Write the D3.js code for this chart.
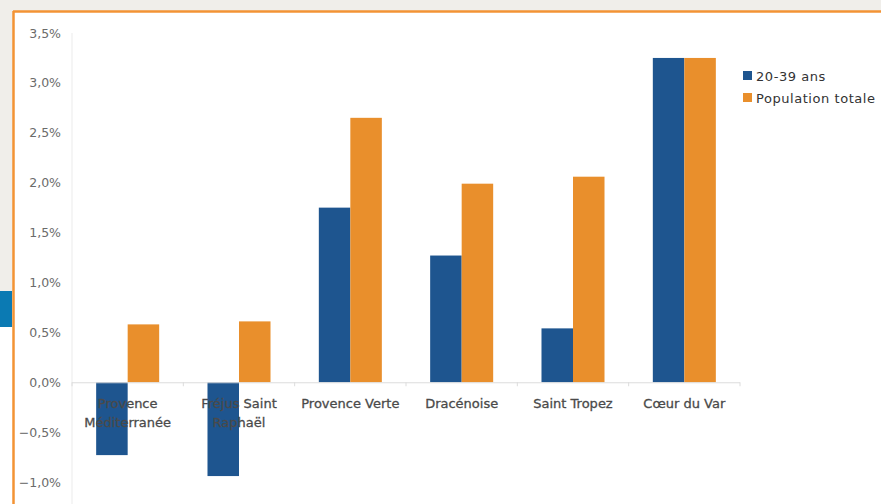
<!DOCTYPE html>
<meta charset="utf-8">
<script src="https://d3js.org/d3.v7.min.js"></script>
<style>
  body { margin: 0; }
  text { font-family: "DejaVu Sans", sans-serif; }
</style>
<div id="my_dataviz"></div>
<script>

// Data
var categories = ["Provence Méditerranée", "Fréjus Saint Raphaël", "Provence Verte", "Dracénoise", "Saint Tropez", "Cœur du Var"];
var labelLines = [["Provence", "Méditerranée"], ["Fréjus Saint", "Raphaël"], ["Provence Verte"], ["Dracénoise"], ["Saint Tropez"], ["Cœur du Var"]];
var series = ["20-39 ans", "Population totale"];
var jeunes = [-0.73, -0.94, 1.75, 1.27, 0.54, 3.25];
var totale = [0.58, 0.61, 2.65, 1.99, 2.06, 3.25];
var yTicks = [-1.0, -0.5, 0.0, 0.5, 1.0, 1.5, 2.0, 2.5, 3.0, 3.5];

var W = 881, H = 504;

var svg = d3.select("#my_dataviz")
  .append("svg")
    .attr("width", W)
    .attr("height", H);

// page background + frame
svg.append("rect").attr("width", W).attr("height", H).style("fill", "#f0eeea");
svg.append("rect").attr("x", 13).attr("y", 11).attr("width", W - 13).attr("height", H - 11).style("fill", "white");
svg.append("rect").attr("x", 0).attr("y", 327).attr("width", 13).attr("height", H - 327).style("fill", "white");
svg.append("rect").attr("x", 0).attr("y", 291).attr("width", 12).attr("height", 36).style("fill", "#0b7ab3");
svg.append("line").attr("x1", 13.5).attr("x2", 13.5).attr("y1", 11).attr("y2", H)
  .style("stroke", "#f39334").style("stroke-width", 2.5);
svg.append("line").attr("x1", 13).attr("x2", W).attr("y1", 11.5).attr("y2", 11.5)
  .style("stroke", "#f39334").style("stroke-width", 2.5);

// Scales
var x = d3.scaleBand()
  .domain(categories)
  .range([72, 740])
  .paddingInner(0.434)
  .paddingOuter(0.217);

var xs = d3.scaleBand()
  .domain(series)
  .range([0, x.bandwidth()]);

var y = d3.scaleLinear()
  .domain([-1.25, 3.5])
  .range([507, 33]);

var color = d3.scaleOrdinal()
  .domain(series)
  .range(["#1e558f", "#e98f2c"]);

// Y axis
var fmt = function(d) { return d3.format(".1f")(d).replace(".", ",") + "%"; };
var yAxis = svg.append("g")
  .attr("transform", "translate(72,0)")
  .call(d3.axisLeft(y).tickValues(yTicks).tickFormat(fmt).tickSize(0).tickPadding(11));
yAxis.select(".domain").attr("stroke", "#ebebeb").attr("d", "M0,33V" + H);
yAxis.selectAll("text").style("font-size", "12.5px").style("fill", "#6b6b6b");

// Bars
var rows = categories.map(function(c, i) { return { cat: c, vals: [jeunes[i], totale[i]] }; });
var groups = svg.append("g").selectAll("g")
  .data(rows)
  .enter()
  .append("g")
    .attr("transform", function(d) { return "translate(" + x(d.cat) + ",0)"; });

groups.selectAll("rect")
  .data(function(d) { return series.map(function(s, j) { return { s: s, v: d.vals[j] }; }); })
  .enter()
  .append("rect")
    .attr("x", function(d) { return xs(d.s); })
    .attr("y", function(d) { return y(Math.max(0, d.v)); })
    .attr("width", xs.bandwidth())
    .attr("height", function(d) { return Math.abs(y(d.v) - y(0)); })
    .style("fill", function(d) { return color(d.s); });

// X axis line + ticks at category boundaries
svg.append("line")
  .attr("x1", 72).attr("x2", 740)
  .attr("y1", y(0) + 0.5).attr("y2", y(0) + 0.5)
  .style("stroke", "#dcdcdc");
var step = x.step();
svg.append("g").selectAll("line")
  .data(d3.range(categories.length + 1))
  .enter()
  .append("line")
    .attr("x1", function(i) { return 72 + i * step; })
    .attr("x2", function(i) { return 72 + i * step; })
    .attr("y1", y(0)).attr("y2", y(0) + 4)
    .style("stroke", "#dcdcdc");

// Category labels
var labels = svg.append("g").selectAll("text")
  .data(categories)
  .enter()
  .append("text")
    .attr("text-anchor", "middle")
    .attr("x", function(d) { return x(d) + x.bandwidth() / 2; })
    .attr("y", y(0) + 26)
    .style("font-size", "13px")
    .style("fill", "#4a4a4a")
    .style("stroke", "#4a4a4a")
    .style("stroke-width", 0.3);
labels.each(function(d, i) {
  var t = d3.select(this);
  labelLines[i].forEach(function(line, k) {
    t.append("tspan")
      .attr("x", x(d) + x.bandwidth() / 2)
      .attr("dy", k === 0 ? 0 : 19)
      .text(line);
  });
});

// Legend
var legend = svg.append("g")
  .attr("transform", "translate(743,71)");
var legends = legend.selectAll("g")
  .data(series)
  .enter()
  .append("g")
    .attr("transform", function(d, i) { return "translate(0," + (i * 22) + ")"; });
legends.append("rect")
  .attr("width", 9)
  .attr("height", 9)
  .style("fill", color);
legends.append("text")
  .attr("x", 13)
  .attr("y", 9.5)
  .style("font-size", "13px")
  .style("letter-spacing", "0.55px")
  .style("fill", "#333")
  .text(function(d) { return d; });

</script>
